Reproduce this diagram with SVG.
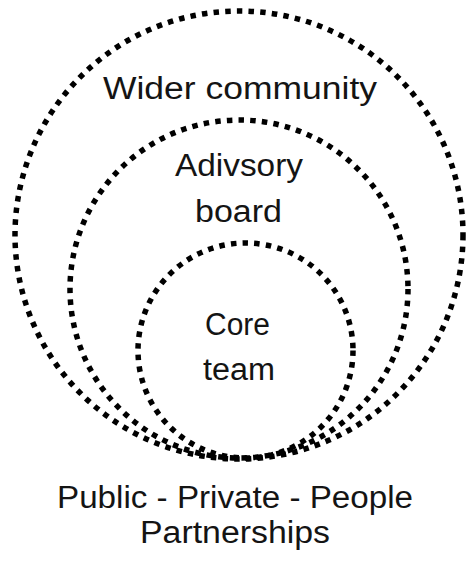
<svg xmlns="http://www.w3.org/2000/svg" width="467" height="563" viewBox="0 0 467 563">
  <style>
    .ring { fill: none; stroke: #000; stroke-width: 5.5; stroke-dasharray: 5.5 6.2; }
    .label { font-family: "Liberation Sans", Arial, sans-serif; font-size: 31px; fill: #141414; text-anchor: middle; }
  </style>
  <rect width="467" height="563" fill="#fff"/>
  <g id="wider-community">
    <circle class="ring" cx="239" cy="235" r="224"/>
    <text class="label" x="240" y="99" textLength="274" lengthAdjust="spacingAndGlyphs">Wider community</text>
  </g>
  <g id="advisory-board">
    <circle class="ring" cx="239" cy="289" r="169"/>
    <text class="label" x="239" y="176" textLength="128" lengthAdjust="spacingAndGlyphs">Adivsory</text>
    <text class="label" x="238.5" y="222" textLength="87" lengthAdjust="spacingAndGlyphs">board</text>
  </g>
  <g id="core-team">
    <circle class="ring" cx="245.5" cy="350.5" r="107.5"/>
    <text class="label" x="237.5" y="335" textLength="65" lengthAdjust="spacingAndGlyphs">Core</text>
    <text class="label" x="239" y="380" textLength="72" lengthAdjust="spacingAndGlyphs">team</text>
  </g>
  <g id="partnerships">
    <text class="label" x="235" y="508" textLength="356" lengthAdjust="spacingAndGlyphs">Public - Private - People</text>
    <text class="label" x="235" y="543" textLength="190" lengthAdjust="spacingAndGlyphs">Partnerships</text>
  </g>
  <g id="connectors"></g>
</svg>
